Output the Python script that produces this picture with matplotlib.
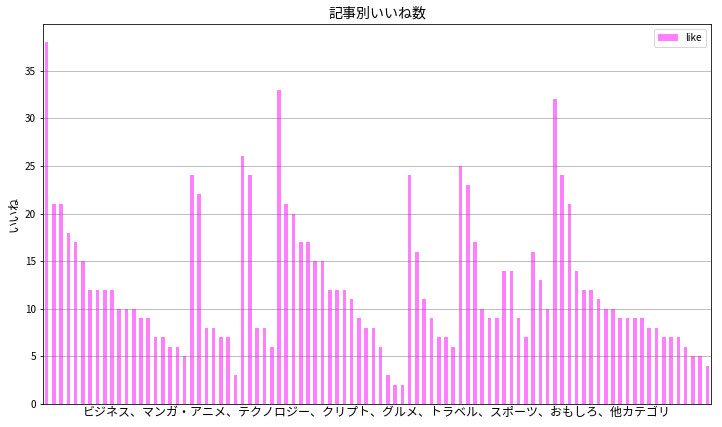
import numpy as np
import pandas as pd
import matplotlib
matplotlib.use("Agg")
import matplotlib.pyplot as plt

plt.rcParams['font.family'] = ['Noto Sans CJK JP', 'DejaVu Sans']

likes = [38, 21, 21, 18, 17, 15, 12, 12, 12, 12,
         10, 10, 10, 9, 9, 7, 7, 6, 6, 5,
         24, 22, 8, 8, 7, 7, 3, 26, 24, 8,
         8, 6, 33, 21, 20, 17, 17, 15, 15, 12,
         12, 12, 11, 9, 8, 8, 6, 3, 2, 2,
         24, 16, 11, 9, 7, 7, 6, 25, 23, 17,
         10, 9, 9, 14, 14, 9, 7, 16, 13, 10,
         32, 24, 21, 14, 12, 12, 11, 10, 10, 9,
         9, 9, 9, 8, 8, 7, 7, 7, 6, 5,
         5, 4]
title = "記事別いいね数"
xlabel = "ビジネス、マンガ・アニメ、テクノロジー、クリプト、グルメ、トラベル、スポーツ、おもしろ、他カテゴリ"
ylabel = "いいね"

df = pd.DataFrame({"like": likes})

fig = plt.figure(figsize=(722/72, 427/72), dpi=72)
ax = fig.add_axes([43/722, 1-404/427, 668/722, 380/427])
df.plot.bar(ax=ax, color="magenta", alpha=0.5)
ax.set_xticks([])
ax.set_title(title, fontsize=14)
ax.set_xlabel(xlabel, fontsize=12, labelpad=2)
ax.set_ylabel(ylabel, fontsize=12)
ax.tick_params(axis='y', labelsize=10)
ax.grid(axis='y')
ax.set_axisbelow(True)
ax.legend(loc="upper right", fontsize=10)
fig.savefig("out.png", dpi=72)
